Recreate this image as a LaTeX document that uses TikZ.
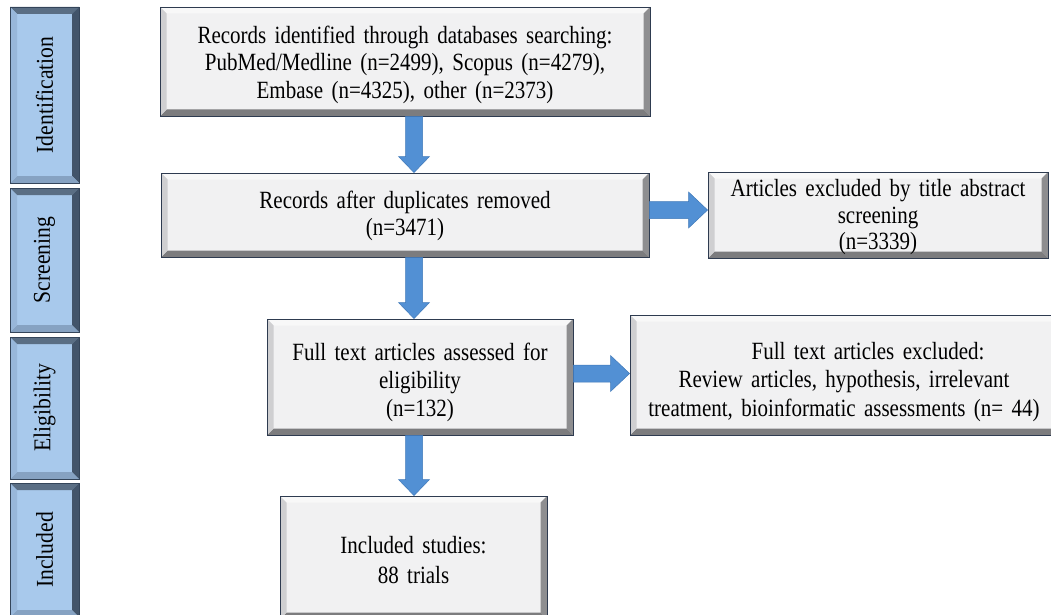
\documentclass[tikz,border=0pt]{standalone}
\usepackage{fontspec}
\usepackage{graphicx}
\setmainfont{Liberation Serif}[WordSpace=1.6]
\usetikzlibrary{calc}
\definecolor{mainface}{HTML}{F1F1F2}
\definecolor{maintop}{HTML}{F8F8F8}
\definecolor{mainright}{HTML}{8E8E90}
\definecolor{mainbottom}{HTML}{7C7C7E}
\definecolor{mainleft}{HTML}{CFCFD1}
\definecolor{mainedge}{HTML}{2E3B50}
\definecolor{sideface}{HTML}{A8C9EC}
\definecolor{sidetop}{HTML}{5A6E84}
\definecolor{sideright}{HTML}{42546A}
\definecolor{sidebottom}{HTML}{86A2C2}
\definecolor{sideleft}{HTML}{98B7DA}
\definecolor{sideedge}{HTML}{34455A}
\definecolor{arrowblue}{HTML}{5290D4}
\definecolor{arrowedge}{HTML}{3F78B8}
\newcommand{\mybevel}[5]{%
  \coordinate (NW) at (path picture bounding box.north west);
  \coordinate (NE) at (path picture bounding box.north east);
  \coordinate (SW) at (path picture bounding box.south west);
  \coordinate (SE) at (path picture bounding box.south east);
  \fill[#2] (NW) -- (NE) -- ([shift={(-#1,-#1)}]NE) -- ([shift={(#1,-#1)}]NW) -- cycle;
  \fill[#3] (NE) -- (SE) -- ([shift={(-#1,#1)}]SE) -- ([shift={(-#1,-#1)}]NE) -- cycle;
  \fill[#4] (SE) -- (SW) -- ([shift={(#1,#1)}]SW) -- ([shift={(-#1,#1)}]SE) -- cycle;
  \fill[#5] (SW) -- (NW) -- ([shift={(#1,-#1)}]NW) -- ([shift={(#1,#1)}]SW) -- cycle;
}
% vertically stretched multi-line text, optionally shifted (box size kept)
\newcommand{\tx}[2][0pt]{\raisebox{#1}[\height][\depth]{\scalebox{1}[1.18]{\begin{tabular}{@{}c@{}}#2\end{tabular}}}}
\tikzset{
  mainbox/.style={draw=mainedge, line width=0.9pt, fill=mainface, inner sep=0pt,
    align=center, text=black,
    path picture={\mybevel{6.5pt}{maintop}{mainright}{mainbottom}{mainleft}}},
  sidebox/.style={draw=sideedge, line width=0.9pt, fill=sideface, inner sep=0pt,
    minimum width=69pt, text=black,
    font=\fontsize{21}{23}\selectfont,
    path picture={\mybevel{7pt}{sidetop}{sideright}{sidebottom}{sideleft}}},
  blockarrow/.style={fill=arrowblue, draw=arrowedge, line width=0.5pt},
  vblock/.style={to path={let \p1=(\tikztostart), \p2=(\tikztotarget) in
    (\x1-8.5pt,\y1) -- (\x1-8.5pt,\y2+16pt) -- (\x1-15.5pt,\y2+16pt) -- (\x1,\y2)
    -- (\x1+15.5pt,\y2+16pt) -- (\x1+8.5pt,\y2+16pt) -- (\x1+8.5pt,\y1) -- cycle}},
  hblock/.style={to path={let \p1=(\tikztostart), \p2=(\tikztotarget) in
    (\x1,\y1+8.5pt) -- (\x2-19pt,\y1+8.5pt) -- (\x2-19pt,\y1+18pt) -- (\x2,\y1)
    -- (\x2-19pt,\y1-18pt) -- (\x2-19pt,\y1-8.5pt) -- (\x1,\y1-8.5pt) -- cycle}}
}
\begin{document}
\begin{tikzpicture}[x=1pt,y=-1pt]
\useasboundingbox (0,0) rectangle (1051,615);
% side stage boxes
\node[sidebox, minimum height=176pt] (s1) at (44.5,95) {\rotatebox{90}{\scalebox{1.03}[1.15]{Identification}}};
\node[sidebox, minimum height=144pt] (s2) at (44.5,260) {\rotatebox{90}{\scalebox{1.03}[1.15]{Screening}}};
\node[sidebox, minimum height=142pt] (s3) at (44.5,408) {\rotatebox{90}{\scalebox{1.03}[1.15]{Eligibility}}};
\node[sidebox, minimum height=134pt] (s4) at (44.5,550) {\rotatebox{90}{\scalebox{1.03}[1.15]{Included}}};
% main boxes
\node[mainbox, minimum width=490pt, minimum height=109pt, font=\fontsize{21}{23}\selectfont] (b1) at (405,61.5)
  {\tx[-4pt]{Records identified through databases searching:\\PubMed/Medline (n=2499), Scopus (n=4279),\\Embase (n=4325), other (n=2373)}};
\node[mainbox, minimum width=488pt, minimum height=84pt, font=\fontsize{21}{23}\selectfont] (b2) at (405,215)
  {\tx[-2pt]{Records after duplicates removed\\(n=3471)}};
\node[mainbox, minimum width=340pt, minimum height=86pt, font=\fontsize{21}{22.5}\selectfont] (b3) at (878,215)
  {\tx[-3pt]{Articles excluded by title abstract\\screening\\(n=3339)}};
\node[mainbox, minimum width=306pt, minimum height=116pt, font=\fontsize{21}{23.5}\selectfont] (b4) at (420,377)
  {\tx[-6pt]{Full text articles assessed for\\eligibility\\(n=132)}};
\node[mainbox, minimum width=428pt, minimum height=120pt, font=\fontsize{21}{24.3}\selectfont] (b5) at (844,375)
  {\tx[-7pt]{\hspace*{48pt}Full text articles excluded:\\Review articles, hypothesis, irrelevant\\treatment, bioinformatic assessments (n= 44)}};
\node[mainbox, minimum width=267pt, minimum height=123pt, font=\fontsize{21}{25.5}\selectfont] (b6) at (413.5,557.5)
  {\tx[-5pt]{Included studies:\\88 trials}};
% arrow guide coordinates
\coordinate (ax) at (414,0);
\coordinate (ay1) at (0,210);
\coordinate (ay2) at (0,373.5);
% arrows
\draw[blockarrow] (b1.south -| ax) to[vblock] (b2.north -| ax);
\draw[blockarrow] (b2.south -| ax) to[vblock] (b4.north -| ax);
\draw[blockarrow] (b4.south -| ax) to[vblock] (b6.north -| ax);
\draw[blockarrow] (b2.east |- ay1) to[hblock] (b3.west |- ay1);
\draw[blockarrow] (b4.east |- ay2) to[hblock] (b5.west |- ay2);
\end{tikzpicture}
\end{document}
